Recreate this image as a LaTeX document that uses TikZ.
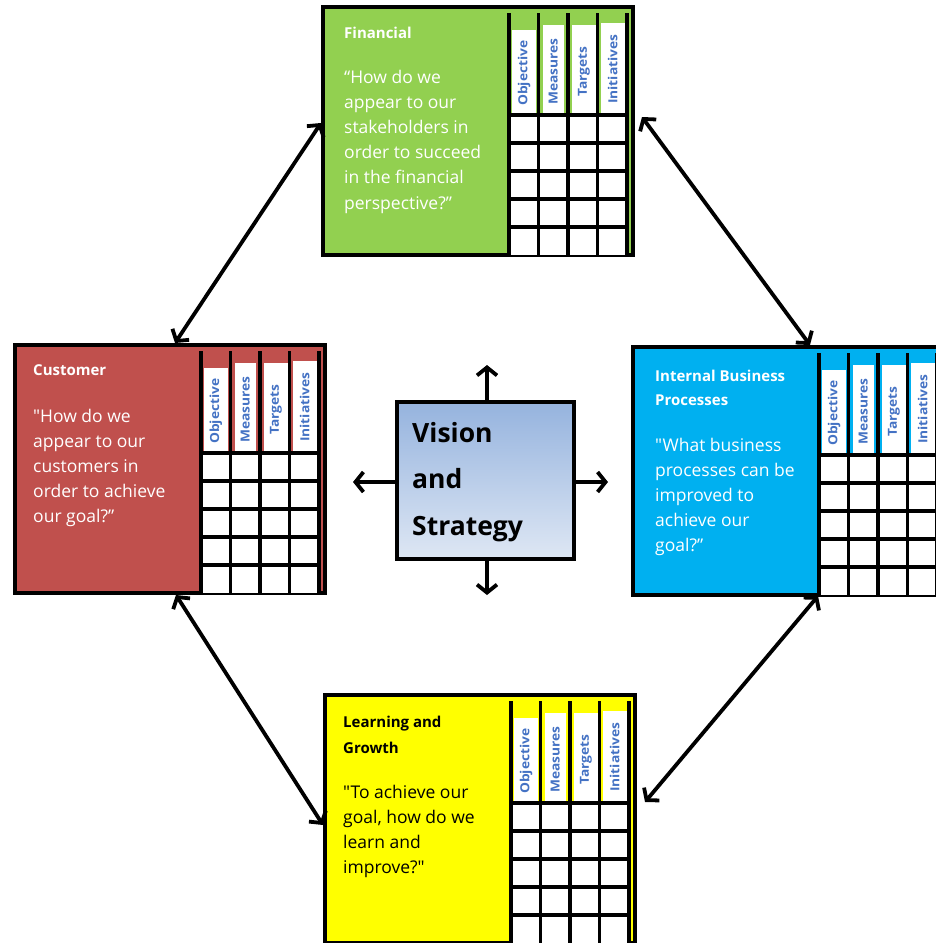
\documentclass[tikz,border=0pt]{standalone}
\usepackage{fontspec}
\setmainfont{Open Sans}[Ligatures=TeXOff]
\usepackage{graphicx}
\usetikzlibrary{arrows.meta}

\definecolor{fingreen}{RGB}{146,208,80}
\definecolor{custred}{RGB}{192,80,77}
\definecolor{intblue}{RGB}{0,176,240}
\definecolor{learnyellow}{RGB}{255,255,0}
\definecolor{labelblue}{RGB}{68,114,196}
\definecolor{visiontop}{RGB}{149,179,222}
\definecolor{visionbottom}{RGB}{222,231,244}

\tikzset{
  persp/.style={draw=black, line width=3.5pt, minimum width=310pt, minimum height=248pt,
    inner sep=0pt, outer sep=0pt, anchor=north west},
  gridline/.style={line width=3.5pt, draw=black},
  collabel/.style={font=\fontsize{12.5}{12.5}\selectfont\bfseries, text=labelblue,
    rotate=90, anchor=west, inner sep=0pt},
  headtext/.style={anchor=base west, inner sep=0pt},
  bodytext/.style={anchor=base west, inner sep=0pt},
  barb/.tip={Straight Barb[length=8pt,width=20pt]},
  link/.style={line width=3.8pt, line cap=round, barb-barb},
  outlink/.style={line width=3.8pt, -barb},
}

% scorecard table (Objective / Measures / Targets / Initiatives) inside a perspective box
\newcommand\scoretable[1]{%
  \begin{scope}[shift={(#1.north west)}]
    \fill[white] (189,23) rectangle (213,108);
    \fill[white] (219.5,18) rectangle (241,108);
    \fill[white] (249,18) rectangle (273,108);
    \fill[white] (277.5,16) rectangle (302,108);
    \node[collabel] (#1-obj) at (201,99) {\scalebox{1.1}[1]{Objective}};
    \node[collabel] (#1-mea) at (230.25,98) {\scalebox{1.1}[1]{Measures}};
    \node[collabel] (#1-tar) at (261,90) {\scalebox{1.1}[1]{Targets}};
    \node[collabel] (#1-ini) at (289.75,97) {\scalebox{1.1}[1]{Initiatives}};
    \fill[white] (186,108) rectangle (304,248);
    \foreach \gx in {186,215.5,245,274.5,304}
      \draw[gridline] (\gx,6) -- (\gx,248);
    \foreach \gy in {108,136,164,192,220}
      \draw[gridline] (184.5,\gy) -- (305.5,\gy);
  \end{scope}}

\newcommand\headfont{\fontsize{15}{25}\selectfont\bfseries}
\newcommand\bodyfont{\fontsize{17.5}{25.2}\selectfont}

\begin{document}
\begin{tikzpicture}[x=1pt,y=-1pt]
  \useasboundingbox (0,0) rectangle (935,943);
  \fill[white] (0,0) rectangle (935,943);

  % perspective boxes
  \node[persp, fill=fingreen] (fin) at (323,7) {};
  \node[persp, fill=custred] (cust) at (15,345) {};
  \node[persp, fill=intblue] (int) at (633,347) {};
  \node[persp, fill=learnyellow] (learn) at (325,695) {};

  \scoretable{fin}
  \scoretable{cust}
  \scoretable{int}
  \scoretable{learn}

  % Financial
  \begin{scope}[shift={(fin.north west)}, text=white]
    \node[headtext] (fin-head) at (21,31) {\parbox[t]{170pt}{\headfont Financial}};
    \node[bodytext] (fin-body) at (21,76) {\parbox[t]{175pt}{\bodyfont\raggedright
      “How do we\\ appear to our\\ stakeholders in\\ order to succeed\\ in the financial\\ perspective?”}};
  \end{scope}

  % Customer
  \begin{scope}[shift={(cust.north west)}, text=white]
    \node[headtext] (cust-head) at (18,30) {\parbox[t]{170pt}{\headfont Customer}};
    \node[bodytext] (cust-body) at (18,77) {\parbox[t]{175pt}{\bodyfont\raggedright
      "How do we\\ appear to our\\ customers in\\ order to achieve\\ our goal?”}};
  \end{scope}

  % Internal Business Processes
  \begin{scope}[shift={(int.north west)}, text=white]
    \node[headtext] (int-head) at (22,34) {\parbox[t]{170pt}{\fontsize{15}{24}\selectfont\bfseries
      Internal Business\\ Processes}};
    \node[bodytext] (int-body) at (22,104) {\parbox[t]{175pt}{\bodyfont\raggedright
      "What business\\ processes can be\\ improved to\\ achieve our\\ goal?”}};
  \end{scope}

  % Learning and Growth
  \begin{scope}[shift={(learn.north west)}, text=black]
    \node[headtext] (learn-head) at (18,32) {\parbox[t]{170pt}{\fontsize{15}{26}\selectfont\bfseries
      Learning and\\ Growth}};
    \node[bodytext] (learn-body) at (18,103) {\parbox[t]{175pt}{\bodyfont\raggedright
      "To achieve our\\ goal, how do we\\ learn and\\ improve?"}};
  \end{scope}

  % Vision and Strategy
  \node[draw=black, line width=3.5pt, top color=visiontop, bottom color=visionbottom,
    minimum width=177pt, minimum height=157pt, inner sep=0pt, anchor=north west]
    (vis) at (395,400) {};
  \node[anchor=base west, inner sep=0pt] (vis-text) at (412,442)
    {\parbox[t]{150pt}{\fontsize{26.5}{46.5}\selectfont\bfseries Vision\\ and\\ Strategy}};

  \coordinate (upTip) at (487,365);
  \coordinate (downTip) at (487,595);
  \coordinate (leftTip) at (353,482);
  \coordinate (rightTip) at (608,482);
  \draw[outlink] (upTip |- vis.north) -- (upTip);
  \draw[outlink] (downTip |- vis.south) -- (downTip);
  \draw[outlink] (leftTip -| vis.west) -- (leftTip);
  \draw[outlink] (rightTip -| vis.east) -- (rightTip);

  % links between perspectives
  \draw[link] ([shift={(-2,116)}]fin.north west) -- ([shift={(160,-2)}]cust.north west);
  \draw[link] ([shift={(9,110)}]fin.north east) -- ([shift={(177,-2)}]int.north west);
  \draw[link] ([shift={(161,2)}]cust.south west) -- ([shift={(-2,130)}]learn.north west);
  \draw[link] ([shift={(185,1)}]int.south west) -- ([shift={(10,107)}]learn.north east);
\end{tikzpicture}
\end{document}
